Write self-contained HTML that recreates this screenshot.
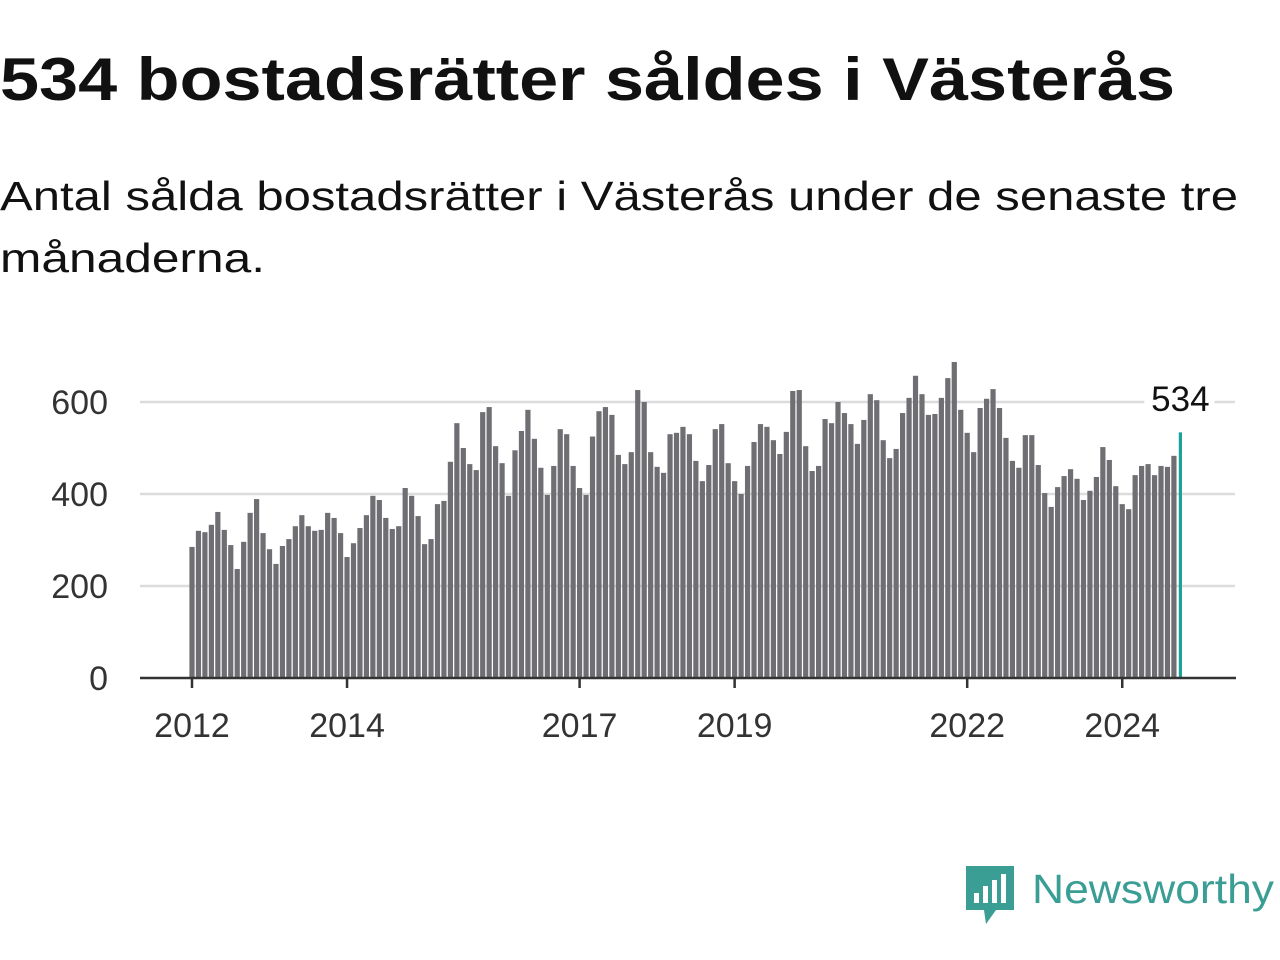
<!DOCTYPE html>
<html><head><meta charset="utf-8"><style>
html,body{margin:0;padding:0;background:#fff;width:1280px;height:960px;overflow:hidden;font-family:"Liberation Sans",sans-serif;}
</style></head><body>
<svg width="1280" height="960">
<text x="0" y="100" font-size="60" font-weight="bold" fill="#111" textLength="1175" lengthAdjust="spacingAndGlyphs">534 bostadsrätter såldes i Västerås</text>
<text x="0" y="210" font-size="41" fill="#111" textLength="1238" lengthAdjust="spacingAndGlyphs">Antal sålda bostadsrätter i Västerås under de senaste tre</text>
<text x="0" y="272" font-size="41" fill="#111" textLength="265" lengthAdjust="spacingAndGlyphs">månaderna.</text>
<g id="grid"></g>
<g id="bars"></g>
<g id="axes"></g>
<g>
<path d="M966 866 h48 v44 h-18 l-10 14 l-2 -14 h-18 z" fill="#3a9e95"/>
<rect x="974" y="893" width="5" height="10" fill="#fff"/><rect x="983" y="886" width="5" height="17" fill="#fff"/><rect x="992" y="880" width="5" height="23" fill="#fff"/><rect x="1001" y="874" width="5" height="29" fill="#fff"/>
<text x="1032" y="903" font-size="41" fill="#3a9e95" textLength="242" lengthAdjust="spacingAndGlyphs">Newsworthy</text>
</g>
</svg>
<script>
const values=[285,320,317,333,361,322,289,237,296,359,389,315,
280,248,287,302,330,354,330,320,322,359,348,315,
263,293,326,354,396,387,348,324,330,413,396,352,
291,302,378,385,470,554,500,465,452,578,589,504,
467,396,495,537,583,520,457,398,461,541,530,461,
413,398,525,580,589,572,485,465,491,626,600,491,
459,446,530,533,546,530,472,428,463,541,552,467,
428,400,461,513,552,546,517,487,535,624,626,504,
450,461,563,554,600,576,552,509,561,617,604,517,
478,498,576,609,657,617,572,574,609,652,687,583,
533,491,587,607,628,587,522,472,457,528,528,463,
402,372,415,439,454,433,387,407,437,502,474,417,
378,367,441,461,465,441,461,459,483,534];
const yTicks=[0,200,400,600];
const xYears=[2012,2014,2017,2019,2022,2024];
const lastLabel="534";
const NS="http://www.w3.org/2000/svg";
const x0=192,step=6.46,yBase=678,k=0.46;
function xs(i){return x0+i*step;}
function ys(v){return yBase-v*k;}
function mk(t,a,p){const e=document.createElementNS(NS,t);for(const q in a)e.setAttribute(q,a[q]);p.appendChild(e);return e;}
const grid=document.getElementById('grid'),bars=document.getElementById('bars'),axes=document.getElementById('axes');
yTicks.forEach(v=>{
 if(v>0){const l=mk('line',{x1:140,x2:1235,y1:ys(v),y2:ys(v),stroke:'#dcdcdc','stroke-width':2.5},grid);
 
 }
 const t=mk('text',{x:108,y:ys(v)+12,'font-size':34,fill:'#333','text-anchor':'end'},axes);
 t.textContent=v;
 
 
});
values.forEach((v,i)=>{
 const last=i===values.length-1;
 const r=mk('rect',{x:xs(i)-(last?1.6:2.6),y:ys(v),width:last?3.2:5.2,height:v*k,fill:last?'#1aa394':'#6f6e73'},bars);
 
 
});
const ax=mk('line',{x1:140,x2:1236,y1:yBase,y2:yBase,stroke:'#333','stroke-width':2.5},axes);


xYears.forEach(y=>{
 const xi=xs((y-2012)*12);
 const tk=mk('line',{x1:xi,x2:xi,y1:yBase,y2:yBase+10,stroke:'#333','stroke-width':2.5},axes);
 
 
 const t=mk('text',{x:xi,y:737,'font-size':34,fill:'#333','text-anchor':'middle'},axes);
 t.textContent=y;
 
 
});
const li=values.length-1;
const lb=mk('rect',{x:xs(li)-36,y:378,width:70,height:40,fill:'#fff'},axes);


const lt=mk('text',{x:xs(li),y:411,'font-size':35,fill:'#111','text-anchor':'middle'},axes);
lt.textContent=lastLabel;


</script>
</body></html>
